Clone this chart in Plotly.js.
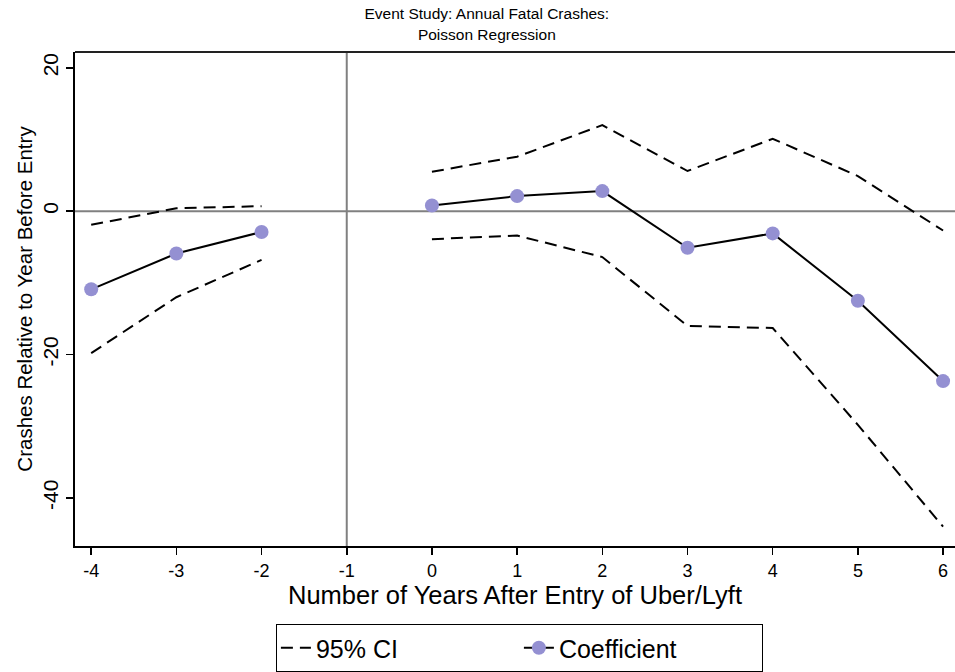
<!DOCTYPE html>
<html>
<head>
<meta charset="utf-8">
<script src="https://cdn.plot.ly/plotly-3.0.1.min.js"></script>
<style>html,body{margin:0;padding:0;background:#fff;}#chart{width:955px;height:672px;}</style>
</head>
<body>
<div id="chart"></div>
<script>
const years = [-4, -3, -2, -1, 0, 1, 2, 3, 4, 5, 6];
const coefficient = [-10.9, -5.9, -2.9, null, 0.8, 2.1, 2.8, -5.1, -3.1, -12.5, -23.7];
const ciUpper = [-1.9, 0.4, 0.7, null, 5.5, 7.6, 12.0, 5.6, 10.1, 4.9, -2.7];
const ciLower = [-19.8, -12.0, -6.8, null, -3.9, -3.4, -6.4, -16.0, -16.3, -29.8, -44.0];
const xTicks = [-4, -3, -2, -1, 0, 1, 2, 3, 4, 5, 6];
const yTicks = [-40, -20, 0, 20];

const narrow = '"Liberation Sans Narrow", "Arial Narrow", "Liberation Sans", Arial, sans-serif';
const sans = '"Liberation Sans", Arial, sans-serif';

const traces = [
  {x: years, y: ciUpper, mode: 'lines', name: '95% CI', legendgroup: 'ci',
   line: {color: '#000', width: 2, dash: '12px,7px'}, connectgaps: false, hoverinfo: 'skip'},
  {x: years, y: ciLower, mode: 'lines', name: '95% CI', legendgroup: 'ci', showlegend: false,
   line: {color: '#000', width: 2, dash: '12px,7px'}, connectgaps: false, hoverinfo: 'skip'},
  {x: years, y: coefficient, mode: 'lines+markers', name: 'Coefficient',
   line: {color: '#000', width: 2}, marker: {color: '#9490d2', size: 14}, connectgaps: false}
];

const layout = {
  width: 955, height: 672,
  margin: {l: 75, r: 0, t: 52, b: 125},
  paper_bgcolor: '#fff', plot_bgcolor: '#fff',
  font: {family: sans, color: '#000'},
  showlegend: true,
  title: {text: 'Event Study: Annual Fatal Crashes:<br>Poisson Regression',
          font: {family: narrow, size: 15.5, color: '#000'},
          x: 0.468, xanchor: 'center', xref: 'paper',
          y: 0.971, yref: 'container', yanchor: 'top'},
  xaxis: {
    range: [-4.19, 6.14], tickvals: xTicks, ticktext: xTicks.map(String),
    ticks: 'outside', ticklen: 7, tickwidth: 1.5, tickcolor: '#000',
    showline: true, linecolor: '#000', linewidth: 2,
    showgrid: false, zeroline: false,
    tickfont: {family: narrow, size: 18, color: '#000'},
    title: {text: 'Number of Years After Entry of Uber/Lyft',
            font: {family: narrow, size: 25.5, color: '#000'}, standoff: 4}
  },
  yaxis: {
    range: [-46.7, 22.2], tickvals: yTicks, ticktext: yTicks.map(String),
    ticks: 'outside', ticklen: 7, tickwidth: 1.5, tickcolor: '#000',
    showline: true, linecolor: '#000', linewidth: 2,
    showgrid: false, zeroline: false, tickangle: -90,
    tickfont: {family: sans, size: 21, color: '#000'},
    title: {text: 'Crashes Relative to Year Before Entry',
            font: {family: sans, size: 20.5, color: '#000'}, standoff: 0}
  },
  shapes: [
    {type: 'line', xref: 'x', yref: 'y', x0: -4.19, x1: 6.14, y0: 0, y1: 0,
     line: {color: '#808080', width: 2}, layer: 'below'},
    {type: 'line', xref: 'x', yref: 'paper', x0: -1, x1: -1, y0: 0, y1: 1,
     line: {color: '#808080', width: 2}, layer: 'below'},
    {type: 'line', xref: 'paper', yref: 'paper', x0: 0, x1: 1, y0: 1, y1: 1,
     line: {color: '#222', width: 2}}
  ],
  legend: {
    orientation: 'h', x: 0.505, xanchor: 'center', y: -0.158, yanchor: 'top',
    bordercolor: '#000', borderwidth: 1, bgcolor: '#fff',
    font: {family: sans, size: 25, color: '#000'},
    entrywidth: 198, entrywidthmode: 'pixels'
  }
};

Plotly.newPlot('chart', traces, layout, {displayModeBar: false, staticPlot: true});
</script>
</body>
</html>
